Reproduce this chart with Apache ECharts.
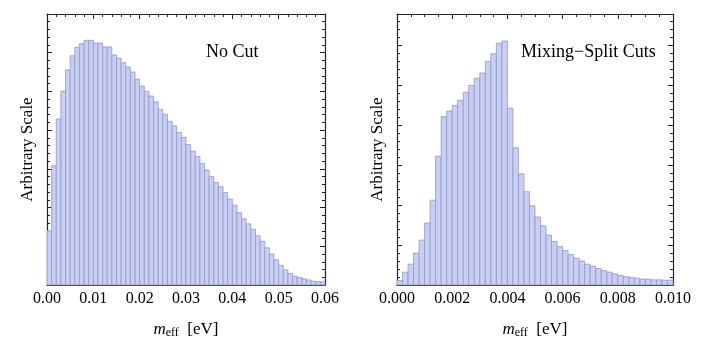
<!DOCTYPE html>
<html>
<head>
<meta charset="utf-8">
<script src="https://cdn.jsdelivr.net/npm/echarts@6/dist/echarts.min.js"></script>
<style>
  html, body { margin: 0; padding: 0; background: #fff; }
  #main { width: 709px; height: 355px; }
</style>
</head>
<body>
<div id="main"></div>
<script>
// histogram bins (bin width in eV) and bar heights, arbitrary units
const noCutBin = 0.001;
const noCutHeights = [
  1.40, 3.08, 4.29, 5.01, 5.56, 5.92, 6.14, 6.23, 6.32, 6.32,
  6.25, 6.25, 6.15, 6.15, 5.94, 5.86, 5.74, 5.63, 5.50, 5.32,
  5.14, 5.00, 4.88, 4.73, 4.54, 4.41, 4.23, 4.11, 3.94, 3.81,
  3.63, 3.46, 3.32, 3.14, 2.97, 2.80, 2.65, 2.54, 2.39, 2.22,
  2.06, 1.87, 1.71, 1.58, 1.44, 1.27, 1.13, 0.96, 0.80, 0.65,
  0.51, 0.39, 0.30, 0.23, 0.19, 0.16, 0.13, 0.10, 0.09, 0.08
];
const splitBin = 0.0002;
const splitHeights = [
  0.11, 0.32, 0.52, 0.80, 1.12, 1.55, 2.12, 3.22, 4.21, 4.35,
  4.49, 4.62, 4.82, 4.99, 5.17, 5.30, 5.59, 5.78, 6.04, 6.10,
  4.42, 3.43, 2.78, 2.33, 1.98, 1.70, 1.48, 1.25, 1.09, 0.96,
  0.86, 0.76, 0.67, 0.60, 0.52, 0.47, 0.41, 0.36, 0.32, 0.28,
  0.24, 0.21, 0.19, 0.17, 0.15, 0.15, 0.13, 0.13, 0.12, 0.12
];
const panelTitles = ['No Cut', 'Mixing\u2212Split Cuts'];
const yName = 'Arbitrary Scale';

function toBins(heights, w) {
  return heights.map((h, i) => [i * w, (i + 1) * w, h]);
}

const serif = '"Liberation Serif", "DejaVu Serif", serif';

function renderBar(params, api) {
  const p0 = api.coord([api.value(0), api.value(2)]);
  const p1 = api.coord([api.value(1), 0]);
  return {
    type: 'rect',
    shape: { x: p0[0], y: p0[1], width: p1[0] - p0[0], height: p1[1] - p0[1] },
    style: { fill: '#c9cef5', stroke: '#9598c0', lineWidth: 0.8 }
  };
}

const lineStyle = { color: '#222', width: 1.2 };

function xAxes(grid, max, interval, minorSplit, digits) {
  const base = {
    type: 'value', gridIndex: grid, min: 0, max: max, interval: interval,
    axisLine: { show: true, onZero: false, lineStyle: lineStyle },
    axisTick: { show: true, inside: true, length: 5, lineStyle: { color: '#222' } },
    minorTick: { show: true, splitNumber: minorSplit, length: 3, lineStyle: { color: '#222' } },
    splitLine: { show: false }
  };
  return [
    Object.assign({}, base, {
      position: 'bottom',
      axisLabel: { show: true, margin: 6, color: '#000', fontFamily: serif, fontSize: 16,
        formatter: v => v.toFixed(digits) },
      name: '{i|m}{s|eff}  [eV]',
      nameLocation: 'middle',
      nameGap: 36,
      nameTextStyle: {
        color: '#000', fontFamily: serif, fontSize: 17,
        rich: {
          i: { fontFamily: serif, fontStyle: 'italic', fontSize: 17, color: '#000' },
          s: { fontFamily: serif, fontSize: 12, color: '#000', verticalAlign: 'bottom', padding: [6, 0, 0, 0] }
        }
      }
    }),
    Object.assign({}, base, { position: 'top', axisLabel: { show: false } })
  ];
}

function yAxes(grid, max) {
  const base = {
    type: 'value', gridIndex: grid, min: 0, max: max, interval: 1,
    axisLine: { show: true, onZero: false, lineStyle: lineStyle },
    axisTick: { show: true, inside: true, length: 5, lineStyle: { color: '#222' } },
    minorTick: { show: true, splitNumber: 5, length: 3, lineStyle: { color: '#222' } },
    splitLine: { show: false },
    axisLabel: { show: false }
  };
  return [
    Object.assign({}, base, {
      position: 'left', name: yName, nameLocation: 'middle', nameGap: 11, nameRotate: 90,
      nameTextStyle: { color: '#000', fontFamily: serif, fontSize: 17 }
    }),
    Object.assign({}, base, { position: 'right' })
  ];
}

const chart = echarts.init(document.getElementById('main'), null, { renderer: 'canvas' });
chart.setOption({
  animation: false,
  backgroundColor: '#fff',
  grid: [
    { left: 47, right: 384, top: 14, bottom: 70 },
    { left: 397, right: 36, top: 14, bottom: 70 }
  ],
  xAxis: [].concat(
    xAxes(0, 0.06, 0.01, 5, 2),
    xAxes(1, 0.01, 0.002, 4, 3)
  ),
  yAxis: [].concat(
    yAxes(0, 7),
    yAxes(1, 6.775)
  ),
  series: [
    { type: 'custom', xAxisIndex: 0, yAxisIndex: 0, renderItem: renderBar,
      encode: { x: [0, 1], y: 2 }, data: toBins(noCutHeights, noCutBin), z: 1 },
    { type: 'custom', xAxisIndex: 2, yAxisIndex: 2, renderItem: renderBar,
      encode: { x: [0, 1], y: 2 }, data: toBins(splitHeights, splitBin), z: 1 }
  ],
  graphic: [
    { type: 'text', left: 206, top: 43,
      style: { text: panelTitles[0], fill: '#000', font: '18px ' + serif } },
    { type: 'text', left: 521, top: 43,
      style: { text: panelTitles[1], fill: '#000', font: '18px ' + serif } }
  ]
});
</script>
</body>
</html>
